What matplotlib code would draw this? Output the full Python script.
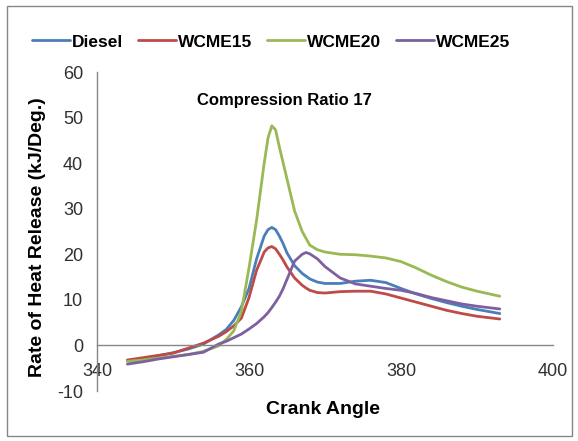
import matplotlib
matplotlib.use('Agg')
import matplotlib.pyplot as plt
from matplotlib.patches import Rectangle

plt.rcParams['font.family'] = ['Liberation Sans', 'DejaVu Sans']
plt.rcParams['axes.unicode_minus'] = False

# crank angle (deg) and rate of heat release (kJ/deg)
crank = [344, 346, 348, 350, 352, 354, 356, 357, 358, 359, 360, 361, 362, 362.5, 363,
         363.5, 364, 364.5, 365, 366, 367, 367.5, 368, 369, 370, 372, 374, 376, 378,
         380, 382, 384, 386, 388, 390, 393]
diesel = [-3.3, -2.9, -2.3, -1.6, -0.8, 0.3, 2.3, 3.5, 5.5, 8.5, 12.5, 19, 24, 25.4, 25.9,
          25.4, 24, 22.3, 20.3, 17.5, 15.8, 15.2, 14.6, 13.9, 13.6, 13.6, 14.1, 14.3, 13.8,
          12.5, 11.3, 10.3, 9.4, 8.6, 7.9, 7.0]
wcme15 = [-3.2, -2.7, -2.2, -1.7, -0.6, 0.5, 2.0, 3.0, 4.3, 6.0, 10.5, 16.5, 20.5, 21.4, 21.7,
          21.2, 20, 18.7, 17.2, 14.8, 13.2, 12.6, 12.1, 11.6, 11.5, 11.8, 11.9, 11.9, 11.3,
          10.4, 9.5, 8.6, 7.7, 7.0, 6.4, 5.8]
wcme20 = [-3.5, -3.2, -2.8, -2.4, -2.0, -1.3, -0.1, 1.3, 3.2, 7.5, 17, 27.5, 40, 45.5, 48.2,
          47.3, 43.5, 40.0, 36.5, 29.5, 25, 23.5, 22, 21, 20.5, 20, 19.9, 19.6, 19.2,
          18.4, 17, 15.4, 14, 12.8, 11.9, 10.8]
wcme25 = [-4.1, -3.6, -3.0, -2.5, -2.0, -1.5, 0.3, 0.9, 1.7, 2.5, 3.6, 4.8, 6.3, 7.2, 8.3,
          9.5, 10.8, 12.5, 14.5, 18.5, 20.0, 20.4, 20.1, 19.0, 17.3, 14.8, 13.5, 13.0, 12.5,
          12.1, 11.4, 10.5, 9.8, 9.1, 8.6, 8.0]

series = [('Diesel', diesel, '#4A7EBB'),
          ('WCME15', wcme15, '#BE4B48'),
          ('WCME20', wcme20, '#98B954'),
          ('WCME25', wcme25, '#7D60A0')]

fig = plt.figure(figsize=(5.78, 4.41), dpi=100)
W, H = 578, 441
ax = fig.add_axes([97 / W, 1 - 391 / H, (553 - 97) / W, (391 - 72) / H])

for name, vals, col in series:
    ax.plot(crank, vals, color=col, lw=2.0, label=name,
            solid_capstyle='round', solid_joinstyle='round')

ax.set_xlim(340, 400)
ax.set_ylim(-10, 60)
ax.set_xticks([340, 360, 380, 400])
ax.set_yticks(range(-10, 61, 10))

ax.spines['top'].set_visible(False)
ax.spines['right'].set_visible(False)
ax.spines['bottom'].set_position(('data', 0))
for s in ['left', 'bottom']:
    ax.spines[s].set_color('#868686')
    ax.spines[s].set_linewidth(1.0)
ax.tick_params(length=0, labelsize=13, colors='#303030')
ax.tick_params(axis='x', pad=13)
ax.tick_params(axis='y', pad=10)

fig.text(38 / W, 1 - 237 / H, 'Rate of Heat Release (kJ/Deg.)', rotation=90,
         ha='center', va='center', fontsize=14, fontweight='bold')
fig.text(323 / W, 1 - 410 / H, 'Crank Angle', ha='center', va='center',
         fontsize=14, fontweight='bold')
fig.text(284 / W, 1 - 100 / H, 'Compression Ratio 17', ha='center', va='center',
         fontsize=12, fontweight='bold')

fig.legend(loc='center', bbox_to_anchor=(271 / W, 1 - 42 / H), ncol=4, frameon=False,
           prop={'weight': 'bold', 'size': 12.5}, handlelength=2.2, handletextpad=0.1,
           columnspacing=0.85)

fig.patches.append(Rectangle((7 / W, 1 - 436 / H), (572 - 7) / W, (436 - 6) / H,
                             transform=fig.transFigure, fill=False,
                             edgecolor='#868686', lw=1.0))

fig.savefig('out.png', dpi=100)
